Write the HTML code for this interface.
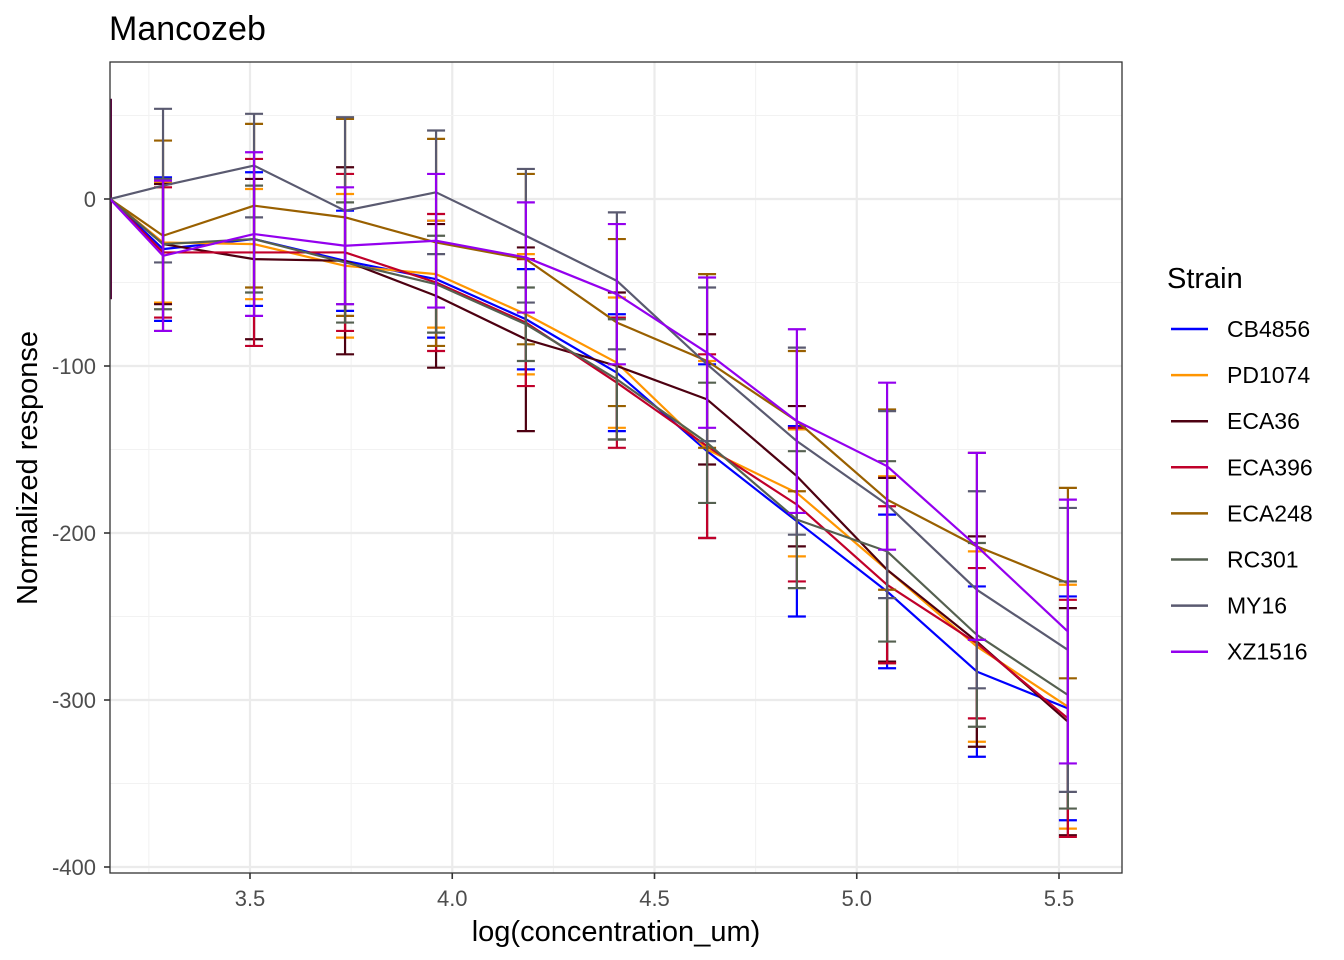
<!DOCTYPE html>
<html><head><meta charset="utf-8"><style>
body{margin:0;background:#fff;}
svg{display:block;font-family:"Liberation Sans",Arial,sans-serif;}
</style></head><body>
<svg id="chart" width="1344" height="960" viewBox="0 0 1344 960">
<rect width="1344" height="960" fill="#fff"/>
<text x="109" y="40" font-size="34" fill="#000">Mancozeb</text>
<g id="grid"></g>
<g id="plot"></g>
<rect x="110" y="62" width="1012" height="811" fill="none" stroke="#333" stroke-width="1.3"/>
<g id="axes"></g>
<text x="616" y="941" font-size="29" text-anchor="middle" fill="#000">log(concentration_um)</text>
<text transform="translate(37,468) rotate(-90)" font-size="29" text-anchor="middle" fill="#000">Normalized response</text>
<g id="legend"></g>
</svg>
<script>
const strains = ["CB4856","PD1074","ECA36","ECA396","ECA248","RC301","MY16","XZ1516"];
const colors = ["#0000ff","#ff9500","#4d0011","#c0002a","#996000","#556050","#5a5a70","#9400ee"];
const logConc = [3.154,3.285,3.510,3.735,3.960,4.182,4.407,4.630,4.852,5.075,5.297,5.522];
const meanCB4856 = [0,-30,-24,-37,-48,-72,-104,-151,-193,-235,-283,-305];
const seCB4856   = [0,43,40,30,35,30,35,52,57,46,51,67];
const meanPD1074 = [0,-26,-27,-40,-45,-69,-98,-150,-176,-222,-268,-304];
const sePD1074   = [0,36,33,43,32,36,39,53,38,56,57,73];
const meanECA36  = [0,-27,-36,-37,-58,-84,-100,-120,-166,-222,-265,-313];
const seECA36    = [0,36,48,56,43,55,44,39,42,55,63,68];
const meanECA396 = [0,-32,-32,-32,-50,-74,-110,-148,-183,-231,-266,-311];
const seECA396   = [0,39,56,47,41,38,39,55,46,47,45,71];
const meanECA248 = [0,-22,-4,-11,-26,-36,-74,-97,-133,-180,-208,-230];
const seECA248   = [0,57,49,59,62,51,50,52,42,54,56,57];
const meanRC301  = [0,-27,-24,-38,-51,-75,-108,-146,-192,-211,-261,-297];
const seRC301    = [0,39,32,36,29,22,36,36,41,54,55,68];
const meanMY16   = [0,8,20,-7,4,-22,-49,-99,-145,-183,-234,-270];
const seMY16     = [0,46,31,56,37,40,41,46,56,56,59,85];
const meanXZ1516 = [0,-34,-21,-28,-25,-35,-57,-92,-133,-160,-208,-259];
const seXZ1516   = [0,45,49,35,40,33,42,45,55,50,56,79];
const allMeans = [meanCB4856,meanPD1074,meanECA36,meanECA396,meanECA248,meanRC301,meanMY16,meanXZ1516];
const allSe = [seCB4856,sePD1074,seECA36,seECA396,seECA248,seRC301,seMY16,seXZ1516];
const xTicks = [3.5,4.0,4.5,5.0,5.5];
const xTickLabels = ["3.5","4.0","4.5","5.0","5.5"];
const yTicks = [0,-100,-200,-300,-400];
const yTickLabels = ["0","-100","-200","-300","-400"];

const NS="http://www.w3.org/2000/svg";
const L=110,R=1122,T=62,B=873;
function xs(v){return 250+(v-3.5)*404.5;}
function ys(v){return 199-v*1.67;}
function mk(tag,attrs,parent){const e=document.createElementNS(NS,tag);for(const k in attrs)e.setAttribute(k,attrs[k]);parent.appendChild(e);return e;}

const grid=document.getElementById('grid');
for(let i=0;i<xTicks.length;i++){
  const x=xs(xTicks[i]);
  const g=mk('line',{x1:x,x2:x,y1:T,y2:B,stroke:'#ebebeb','stroke-width':2.2},grid);
  
  
  const xm=xs(xTicks[i]-0.25);
  const gm=mk('line',{x1:xm,x2:xm,y1:T,y2:B,stroke:'#f2f2f2','stroke-width':1.1},grid);
  
  
}
for(let i=0;i<yTicks.length;i++){
  const y=ys(yTicks[i]);
  const g=mk('line',{x1:L,x2:R,y1:y,y2:y,stroke:'#ebebeb','stroke-width':2.2},grid);
  
  
  const ym=ys(yTicks[i]+50);
  const gm=mk('line',{x1:L,x2:R,y1:ym,y2:ym,stroke:'#f2f2f2','stroke-width':1.1},grid);
  
  
}

const plot=document.getElementById('plot');
const clip=mk('clipPath',{id:'pc'},mk('defs',{},plot));
mk('rect',{x:L,y:T,width:R-L,height:B-T},clip);
const pg=mk('g',{'clip-path':'url(#pc)'},plot);
const edge=mk('line',{x1:L+1,x2:L+1,y1:ys(60),y2:ys(-60),stroke:'#5a0a40','stroke-width':2},pg);


for(let s=0;s<strains.length;s++){
  const g=mk('g',{},pg);
  
  
  const m=allMeans[s],se=allSe[s],c=colors[s];
  for(let i=1;i<logConc.length;i++){
    const x=xs(logConc[i]),yu=ys(m[i]+se[i]),yl=ys(m[i]-se[i]);
    const eb=mk('path',{d:`M${x-9},${yu}H${x+9}M${x},${yu}V${yl}M${x-9},${yl}H${x+9}`,stroke:c,'stroke-width':2.2,fill:'none'},g);
    
    
  }
  const d=logConc.map((v,i)=>(i?'L':'M')+xs(v)+','+ys(m[i])).join('');
  const ln=mk('path',{d:d,stroke:c,'stroke-width':2.2,fill:'none','stroke-linejoin':'round'},g);
  
  
}

const axes=document.getElementById('axes');
for(let i=0;i<xTicks.length;i++){
  const x=xs(xTicks[i]);
  const t=mk('line',{x1:x,x2:x,y1:B,y2:B+6,stroke:'#333','stroke-width':1.6},axes);
  
  
  const lb=mk('text',{x:x,y:B+33,'font-size':22,'text-anchor':'middle',fill:'#4d4d4d'},axes);
  lb.textContent=xTickLabels[i];
  
  
}
for(let i=0;i<yTicks.length;i++){
  const y=ys(yTicks[i]);
  const t=mk('line',{x1:L-6,x2:L,y1:y,y2:y,stroke:'#333','stroke-width':1.6},axes);
  
  
  const lb=mk('text',{x:L-14,y:y+8,'font-size':22,'text-anchor':'end',fill:'#4d4d4d'},axes);
  lb.textContent=yTickLabels[i];
  
  
}

const lg=document.getElementById('legend');


const lt=mk('text',{x:1167,y:288,'font-size':29,fill:'#000'},lg);
lt.textContent='Strain';


for(let s=0;s<strains.length;s++){
  const y=329+s*46.1;
  const e=mk('g',{},lg);
  
  
  mk('line',{x1:1171,x2:1208,y1:y,y2:y,stroke:colors[s],'stroke-width':2.5},e);
  const tx=mk('text',{x:1227,y:y+8,'font-size':23,fill:'#000'},e);
  tx.textContent=strains[s];
}
</script>
</body></html>
